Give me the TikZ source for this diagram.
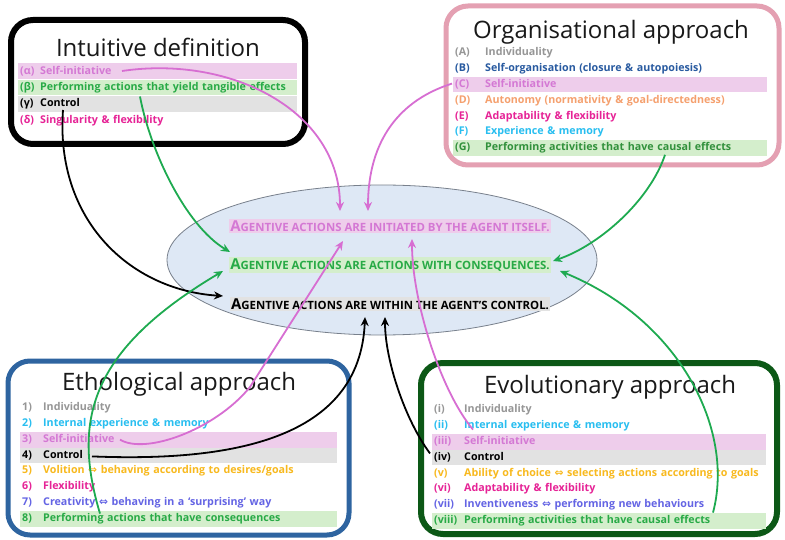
\documentclass[tikz,border=0pt]{standalone}
\usepackage{fontspec}
\setmainfont{Open Sans}
\newfontfamily\symfont{DejaVu Sans}
\usetikzlibrary{arrows.meta,shapes.geometric,calc}
\definecolor{titleblack}{RGB}{25,25,25}
\definecolor{cgray}{RGB}{150,150,150}
\definecolor{ccyan}{RGB}{40,190,240}
\definecolor{cpinklt}{RGB}{212,120,212}
\definecolor{cyellow}{RGB}{248,185,30}
\definecolor{cmagenta}{RGB}{230,35,150}
\definecolor{cpurple}{RGB}{100,100,228}
\definecolor{cgreen}{RGB}{40,170,70}
\definecolor{cgreendk}{RGB}{50,145,60}
\definecolor{cblue}{RGB}{40,90,160}
\definecolor{corange}{RGB}{245,160,110}
\definecolor{pinkhl}{RGB}{238,205,235}
\definecolor{greenhl}{RGB}{212,238,204}
\definecolor{grayhl}{RGB}{226,226,226}
\definecolor{borderpink}{RGB}{228,160,178}
\definecolor{borderblue}{RGB}{46,100,160}
\definecolor{bordergreen}{RGB}{12,88,22}
\definecolor{ellfill}{RGB}{222,232,245}
\definecolor{ellline}{RGB}{120,128,140}
\definecolor{arrpink}{RGB}{215,110,210}
\definecolor{arrgreen}{RGB}{30,170,80}
\newcommand{\agtext}[1]{{\fontsize{15}{15}\selectfont A}{\fontsize{11.4}{13}\selectfont #1}}
\newcommand{\dbl}{{\symfont\char"21D4}}
\begin{document}
\begin{tikzpicture}[x=1pt,y=-1pt,
  framebox/.style={draw, rounded corners=22pt, inner sep=0pt},
  title/.style={font=\fontsize{24}{24}\selectfont, text=titleblack, inner sep=0pt},
  row/.style={anchor=west, inner xsep=2pt, inner ysep=0pt, minimum height=15.8pt,
    text width=#1, align=left, font=\bfseries\fontsize{10.7}{12}\selectfont},
  hl/.style={inner xsep=1pt, inner ysep=2pt, font=\bfseries},
  arr/.style={line width=1.8pt, -{Stealth[length=9pt,width=8pt]}},
  pinkarr/.style={arr, draw=arrpink},
  greenarr/.style={arr, draw=arrgreen},
  blackarr/.style={arr, draw=black}]
\useasboundingbox (0,0) rectangle (785,540);
\fill[white] (0,0) rectangle (785,540);

% frames
\node[framebox, line width=6pt, minimum width=294pt, minimum height=124pt] (intbox) at (158,82) {};
\node[framebox, draw=borderpink, line width=5pt, minimum width=333pt, minimum height=159pt] (orgbox) at (612.5,85.5) {};
\node[framebox, draw=borderblue, line width=5pt, minimum width=341pt, minimum height=174pt] (ethbox) at (178.5,448) {};
\node[framebox, draw=bordergreen, line width=6pt, minimum width=356pt, minimum height=171pt] (evobox) at (599,448.5) {};

% titles
\node[title] (inttitle) at (158,47) {Intuitive definition};
\node[title] (orgtitle) at (611,32) {Organisational approach};
\node[title] (ethtitle) at (179,384) {Ethological approach};
\node[title] (evotitle) at (610,387) {Evolutionary approach};

% intuitive rows
\begin{scope}[every node/.append style={minimum height=16.5pt}]
\node[row=275pt, fill=pinkhl, text=cpinklt] (intA) at (18,71) {\makebox[20pt][l]{(α)}Self-initiative};
\node[row=275pt, fill=greenhl, text=cgreen] (intB) at (18,87.5) {\makebox[20pt][l]{(β)}Performing actions that yield tangible effects};
\node[row=275pt, fill=grayhl, text=black] (intC) at (18,104) {\makebox[20pt][l]{(γ)}Control};
\node[row=275pt, text=cmagenta] (intD) at (18,120.5) {\makebox[20pt][l]{(δ)}Singularity \& flexibility};
\end{scope}

% organisational rows
\node[row=310pt, text=cgray] (orgA) at (453,53) {\makebox[30pt][l]{(A)}Individuality};
\node[row=310pt, text=cblue] (orgB) at (453,68.8) {\makebox[30pt][l]{(B)}Self-organisation (closure \& autopoiesis)};
\node[row=310pt, fill=pinkhl, text=cpinklt] (orgC) at (453,84.6) {\makebox[30pt][l]{(C)}Self-initiative};
\node[row=310pt, text=corange] (orgD) at (453,100.4) {\makebox[30pt][l]{(D)}Autonomy (normativity \& goal-directedness)};
\node[row=310pt, text=cmagenta] (orgE) at (453,116.2) {\makebox[30pt][l]{(E)}Adaptability \& flexibility};
\node[row=310pt, text=ccyan] (orgF) at (453,132) {\makebox[30pt][l]{(F)}Experience \& memory};
\node[row=310pt, fill=greenhl, text=cgreendk] (orgG) at (453,147.8) {\makebox[30pt][l]{(G)}Performing activities that have causal effects};

% ethological rows
\node[row=313pt, text=cgray] (ethA) at (20,408) {\makebox[21pt][l]{1)}Individuality};
\node[row=313pt, text=ccyan] (ethB) at (20,423.8) {\makebox[21pt][l]{2)}Internal experience \& memory};
\node[row=313pt, fill=pinkhl, text=cpinklt] (ethC) at (20,439.6) {\makebox[21pt][l]{3)}Self-initiative};
\node[row=313pt, fill=grayhl, text=black] (ethD) at (20,455.4) {\makebox[21pt][l]{4)}Control};
\node[row=313pt, text=cyellow] (ethE) at (20,471.2) {\makebox[21pt][l]{5)}Volition \dbl{} behaving according to desires/goals};
\node[row=313pt, text=cmagenta] (ethF) at (20,487) {\makebox[21pt][l]{6)}Flexibility};
\node[row=313pt, text=cpurple] (ethG) at (20,502.8) {\makebox[21pt][l]{7)}Creativity \dbl{} behaving in a ‘surprising’ way};
\node[row=313pt, fill=greenhl, text=cgreen] (ethH) at (20,518.6) {\makebox[21pt][l]{8)}Performing actions that have consequences};

% evolutionary rows
\node[row=330pt, text=cgray] (evoA) at (432,410) {\makebox[30pt][l]{(i)}Individuality};
\node[row=330pt, text=ccyan] (evoB) at (432,425.8) {\makebox[30pt][l]{(ii)}Internal experience \& memory};
\node[row=330pt, fill=pinkhl, text=cpinklt] (evoC) at (432,441.6) {\makebox[30pt][l]{(iii)}Self-initiative};
\node[row=330pt, fill=grayhl, text=black] (evoD) at (432,457.4) {\makebox[30pt][l]{(iv)}Control};
\node[row=330pt, text=cyellow] (evoE) at (432,473.2) {\makebox[30pt][l]{(v)}Ability of choice \dbl{} selecting actions according to goals};
\node[row=330pt, text=cmagenta] (evoF) at (432,489) {\makebox[30pt][l]{(vi)}Adaptability \& flexibility};
\node[row=330pt, text=cpurple] (evoG) at (432,504.8) {\makebox[30pt][l]{(vii)}Inventiveness \dbl{} performing new behaviours};
\node[row=330pt, fill=greenhl, text=cgreen] (evoH) at (432,520.6) {\makebox[30pt][l]{(viii)}Performing activities that have causal effects};

% central ellipse
\node[ellipse, draw=ellline, line width=0.8pt, fill=ellfill, minimum width=430pt, minimum height=150pt, inner sep=0pt] (ell) at (382,260) {};
\node[hl, fill=pinkhl, text=cpinklt] (l1) at (390,226) {\agtext{GENTIVE ACTIONS ARE INITIATED BY THE AGENT ITSELF.}};
\node[hl, fill=greenhl, text=cgreen] (l2) at (390,265) {\agtext{GENTIVE ACTIONS ARE ACTIONS WITH CONSEQUENCES.}};
\node[hl, fill=grayhl, text=black] (l3) at (390,304) {\agtext{GENTIVE ACTIONS ARE WITHIN THE AGENT’S CONTROL.}};

% connectors
\draw[pinkarr] ($(intA.west)+(104,0)$) .. controls (230,55) and (340,110) .. ($(l1.center)+(-50,-15)$);
\draw[pinkarr] ($(orgC.west)+(-1,-1)$) .. controls (400,100) and (368,140) .. ($(l1.center)+(-22,-15)$);
\draw[greenarr] ($(intB.west)+(122,9)$) .. controls (150,150) and (185,225) .. ($(l2.center)+(-160,-13)$);
\draw[blackarr] ($(intC.west)+(45,6)$) .. controls (55,220) and (130,290) .. ($(l3.center)+(-167,-8)$);
\draw[greenarr] ($(orgG.west)+(212,7)$) .. controls (650,200) and (600,245) .. ($(l2.center)+(163,-4)$);
\draw[greenarr] ($(evoH.west)+(281,-8)$) .. controls (735,430) and (680,320) .. ($(l2.center)+(170,6)$);
\draw[greenarr] ($(ethH.west)+(80,-5)$) .. controls (72,420) and (90,350) .. ($(l2.center)+(-167,6)$);
\draw[pinkarr] ($(ethC.west)+(100,0)$) .. controls (145,455) and (215,430) .. (250,387) -- ($(l1.center)+(-47,15)$);
\draw[blackarr] ($(ethD.west)+(72,1)$) .. controls (230,462) and (360,440) .. ($(l3.center)+(-25,13)$);
\draw[blackarr] ($(evoD.west)+(-2,-4)$) .. controls (405,420) and (385,360) .. ($(l3.center)+(-5,13)$);
\draw[pinkarr] ($(evoC.west)+(41,-12)$) .. controls (440,390) and (412,300) .. ($(l1.center)+(22,13)$);
\end{tikzpicture}
\end{document}
